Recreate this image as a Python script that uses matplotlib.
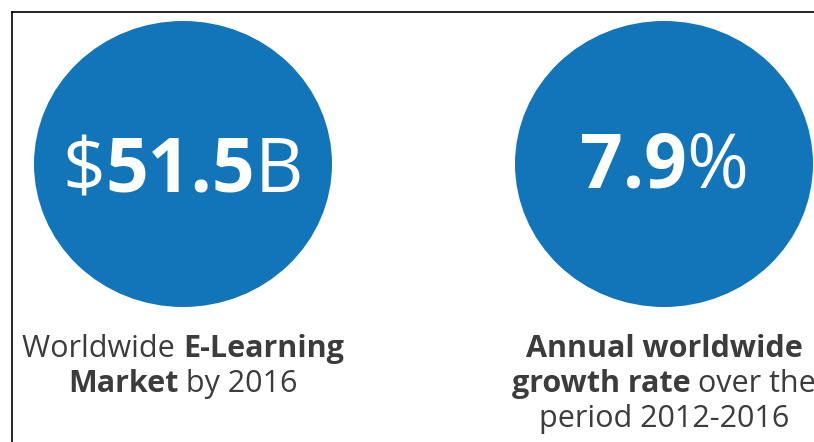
import matplotlib
matplotlib.use("Agg")
import matplotlib.pyplot as plt
from matplotlib.patches import Ellipse

# stat figures, split into (text, weight) runs
stat_runs = [
    [("$", "normal"), ("51.5", "bold"), ("B", "normal")],
    [("7.9", "bold"), ("%", "normal")],
]
# captions under each circle, one list of runs per line
caption_runs = [
    [
        [("Worldwide ", "normal"), ("E-Learning", "bold")],
        [("Market", "bold"), (" by 2016", "normal")],
    ],
    [
        [("Annual worldwide", "bold")],
        [("growth rate", "bold"), (" over the", "normal")],
        [("period 2012-2016", "normal")],
    ],
]

W, H = 814, 442
blue = "#1275ba"
grey = "#3c3c3c"

fig = plt.figure(figsize=(W / 100, H / 100), dpi=100)
ax = fig.add_axes([0, 0, 1, 1])
ax.set_xlim(0, W)
ax.set_ylim(H, 0)
ax.axis("off")
renderer = fig.canvas.get_renderer()


def advance(s, size, weight, family):
    # width incl. trailing spaces: measure against a bar glyph
    t1 = ax.text(0, 0, s + "|", fontsize=size, fontweight=weight, family=family)
    t2 = ax.text(0, 0, "|", fontsize=size, fontweight=weight, family=family)
    w = t1.get_window_extent(renderer).width - t2.get_window_extent(renderer).width
    t1.remove()
    t2.remove()
    return w


def draw_runs(xc, yb, runs, size, color, family):
    widths = [advance(s, size, wt, family) for s, wt in runs]
    x = xc - sum(widths) / 2
    for (s, wt), w in zip(runs, widths):
        ax.text(x, yb, s, fontsize=size, fontweight=wt, family=family,
                color=color, ha="left", va="baseline")
        x += w


centers = [183, 664]
cy = 164

for i, xc in enumerate(centers):
    ax.add_patch(Ellipse((xc, cy), 298, 286, color=blue, lw=0))
    draw_runs(xc, 192 if i == 0 else 187, stat_runs[i], 54, "white", "Open Sans")
    for j, line in enumerate(caption_runs[i]):
        draw_runs(xc, 357 + j * 35, line, 22, grey, "Open Sans")

# frame (left and top edge only, the rest is cut off)
ax.plot([11.5, 11.5], [H, 12], color="black", lw=1.2, solid_capstyle="projecting")
ax.plot([11.5, W], [12, 12], color="black", lw=1.2, solid_capstyle="projecting")

fig.savefig("out.png", dpi=100)
